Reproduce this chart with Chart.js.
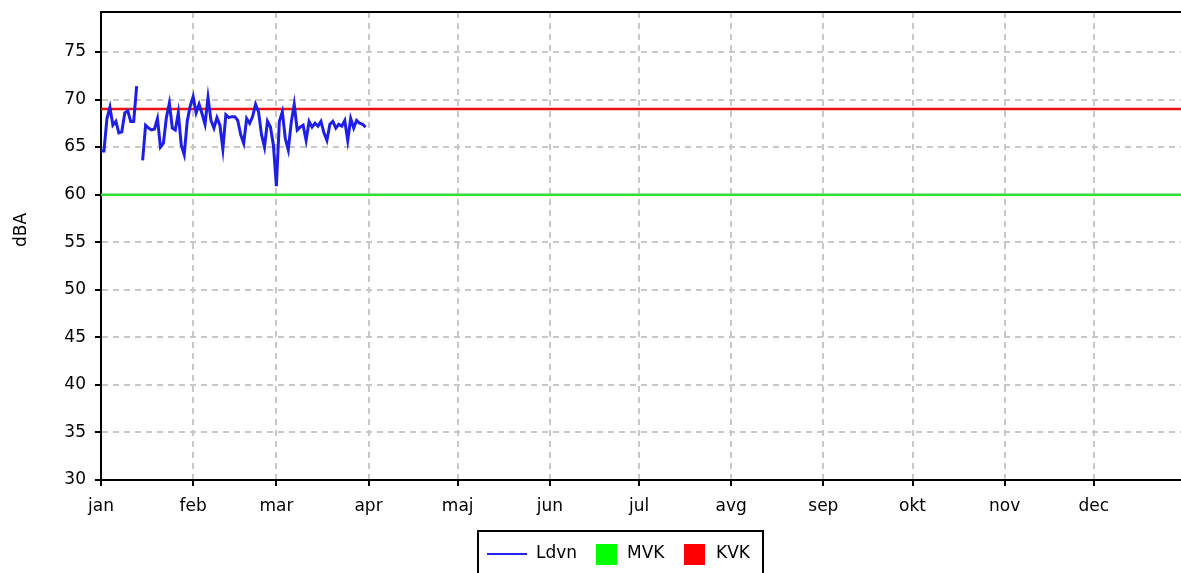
<!DOCTYPE html>
<html>
<head>
<meta charset="utf-8">
<script src="https://cdn.jsdelivr.net/npm/chart.js@4.4.1/dist/chart.umd.min.js"></script>
<style>
  html, body { margin: 0; padding: 0; background: #fff; overflow: hidden; width: 1181px; height: 573px; }
  #wrap { position: relative; width: 1186px; height: 600px; }
</style>
</head>
<body>
<div id="wrap"><canvas id="c" width="1186" height="600"></canvas></div>
<script>
// ---- data ----
const monthLabels = ['jan','feb','mar','apr','maj','jun','jul','avg','sep','okt','nov','dec'];
const monthStartDays = [0,31,59,90,120,151,181,212,243,273,304,334];
const yTickValues = [30,35,40,45,50,55,60,65,70,75];
const seriesNames = ['Ldvn','MVK','KVK'];
// Ldvn daily values, day 0 = 1 Jan (null = missing day)
const ldvnDays = [];
for (let d = 0; d < 90; d++) ldvnDays.push(d);
const ldvnValues = [
  64.6, 64.6, 68.0, 69.2, 67.3, 67.7, 66.5, 66.6, 68.6, 68.8,
  67.7, 67.7, 71.4, null, 63.6, 67.3, 67.0, 66.8, 66.9, 68.0,
  65.0, 65.4, 68.1, 69.6, 67.0, 66.8, 68.6, 65.2, 64.2, 67.7,
  69.3, 70.3, 68.6, 69.5, 68.5, 67.4, 70.2, 67.8, 67.0, 68.1,
  67.3, 64.8, 68.4, 68.1, 68.2, 68.2, 67.8, 66.3, 65.4, 68.0,
  67.5, 68.2, 69.5, 68.7, 66.3, 65.0, 67.7, 67.1, 65.2, 60.9,
  67.7, 68.7, 65.9, 64.7, 67.6, 69.5, 66.8, 67.1, 67.3, 65.7,
  67.7, 67.1, 67.5, 67.2, 67.7, 66.5, 65.7, 67.4, 67.7, 67.0,
  67.4, 67.2, 67.8, 65.7, 68.0, 67.0, 67.8, 67.5, 67.4, 67.1
];
const mvkValue = 60;
const kvkValue = 69;
const xRange = [0, 365];
const yRange = [30, 79.2];

const colors = { Ldvn: '#1e1ee6', MVK: '#33dd33', KVK: '#ee1111' };
const legendColors = { Ldvn: '#2222ee', MVK: '#00ff00', KVK: '#ff0000' };
const FONT = 'DejaVu Sans, Verdana, sans-serif';

const ldvnData = ldvnDays.map((d, i) => ({ x: d, y: ldvnValues[i] }));

const bordersPlugin = {
  id: 'extras',
  afterDraw(chart) {
    const ctx = chart.ctx;
    const a = chart.chartArea;
    ctx.save();
    // top border
    ctx.strokeStyle = '#000';
    ctx.lineWidth = 2;
    ctx.beginPath();
    ctx.moveTo(a.left - 1, a.top);
    ctx.lineTo(a.right + 5, a.top);
    ctx.stroke();
    // y axis title
    ctx.save();
    ctx.translate(22, 230);
    ctx.rotate(-Math.PI / 2);
    ctx.fillStyle = '#000';
    ctx.font = '17px ' + FONT;
    ctx.textAlign = 'center';
    ctx.textBaseline = 'middle';
    ctx.fillText('dBA', 0, 0);
    ctx.restore();
    // legend
    const bx = 478, by = 531, bw = 285, bh = 60;
    ctx.strokeStyle = '#000';
    ctx.lineWidth = 2;
    ctx.strokeRect(bx, by, bw, bh);
    ctx.font = '17px ' + FONT;
    ctx.textBaseline = 'middle';
    ctx.textAlign = 'left';
    ctx.fillStyle = '#000';
    const cy = 554;
    ctx.strokeStyle = legendColors.Ldvn;
    ctx.lineWidth = 2;
    ctx.beginPath();
    ctx.moveTo(487, cy);
    ctx.lineTo(527, cy);
    ctx.stroke();
    ctx.fillText(seriesNames[0], 536, cy);
    ctx.fillStyle = legendColors.MVK;
    ctx.fillRect(596, cy - 10, 21, 21);
    ctx.fillStyle = '#000';
    ctx.fillText(seriesNames[1], 627, cy);
    ctx.fillStyle = legendColors.KVK;
    ctx.fillRect(684, cy - 10, 21, 21);
    ctx.fillStyle = '#000';
    ctx.fillText(seriesNames[2], 716, cy);
    ctx.restore();
  }
};

new Chart(document.getElementById('c'), {
  type: 'line',
  data: {
    datasets: [
      {
        label: seriesNames[0],
        data: ldvnData,
        borderColor: colors.Ldvn,
        borderWidth: 3,
        pointRadius: 0,
        tension: 0,
        spanGaps: false,
        order: 0
      },
      {
        label: seriesNames[1],
        data: [{ x: xRange[0], y: mvkValue }, { x: xRange[1], y: mvkValue }],
        borderColor: colors.MVK,
        borderWidth: 2.5,
        pointRadius: 0,
        order: 2
      },
      {
        label: seriesNames[2],
        data: [{ x: xRange[0], y: kvkValue }, { x: xRange[1], y: kvkValue }],
        borderColor: colors.KVK,
        borderWidth: 2.5,
        pointRadius: 0,
        order: 1
      }
    ]
  },
  options: {
    responsive: false,
    animation: false,
    devicePixelRatio: 1,
    layout: { padding: { top: 12, left: 0, right: 0, bottom: 0 } },
    plugins: { legend: { display: false }, tooltip: { enabled: false } },
    scales: {
      x: {
        type: 'linear',
        min: xRange[0],
        max: xRange[1],
        afterBuildTicks(scale) {
          scale.ticks = monthStartDays.map(v => ({ value: v }));
        },
        afterFit(scale) { scale.height = 120; scale.paddingLeft = 0; scale.paddingRight = 0; },
        ticks: {
          autoSkip: false,
          maxRotation: 0,
          padding: 10,
          color: '#000',
          font: { family: FONT, size: 17 },
          callback(value, index) { return monthLabels[index]; }
        },
        grid: {
          color: ctx => (ctx.index === 0 ? 'rgba(0,0,0,0)' : '#c8c8c8'),
          lineWidth: 2,
          tickColor: '#000',
          tickWidth: 2,
          tickLength: 6
        },
        border: { display: true, color: '#000', width: 2, dash: [6, 5] }
      },
      y: {
        type: 'linear',
        min: yRange[0],
        max: yRange[1],
        afterBuildTicks(scale) {
          scale.ticks = yTickValues.map(v => ({ value: v }));
        },
        afterFit(scale) { scale.width = 101; scale.paddingTop = 0; scale.paddingBottom = 0; },
        ticks: {
          padding: 9,
          color: '#000',
          font: { family: FONT, size: 17 },
          callback(value) { return String(value); }
        },
        grid: {
          color: ctx => (ctx.index === 0 ? 'rgba(0,0,0,0)' : '#c8c8c8'),
          lineWidth: 2,
          tickColor: '#000',
          tickWidth: 2,
          tickLength: 6
        },
        border: { display: true, color: '#000', width: 2, dash: [6, 5] }
      }
    }
  },
  plugins: [bordersPlugin]
});
</script>
</body>
</html>
